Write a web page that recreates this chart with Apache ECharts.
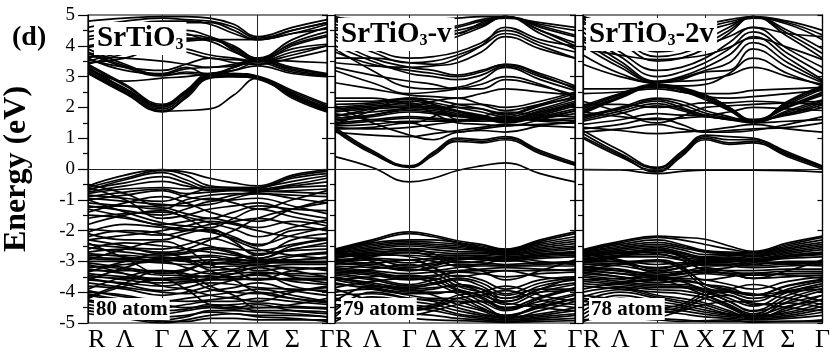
<!DOCTYPE html>
<html>
<head>
<meta charset="utf-8">
<script src="https://cdn.jsdelivr.net/npm/echarts@6/dist/echarts.min.js"></script>
<style>
html,body{margin:0;padding:0;background:#fff}
#chart{width:833px;height:353px}
</style>
</head>
<body>
<div id="chart"></div>
<script>
// High-symmetry path R-Γ-X-M-Γ with the midpoints Λ, Δ, Z, Σ
const kLabels = ['R', 'Λ', 'Γ', 'Δ', 'X', 'Z', 'M', 'Σ', 'Γ'];
const kPos = [0, 0.155, 0.31, 0.41, 0.51, 0.61, 0.71, 0.855, 1];
const symLines = [2, 4, 6]; // Γ, X, M drawn as vertical guides
const energyRange = [-5, 5];

// Each band: energy (eV) at R, Λ, Γ, Δ, X, Z, M, Σ, Γ
// ---- SrTiO3, 80 atom supercell ----
const cond80 = [
  [3.30, 2.62, 2.05, 2.45, 3.00, 3.05, 2.98, 2.50, 2.05],
  [3.20, 2.55, 1.95, 2.40, 3.00, 3.05, 2.95, 2.40, 1.95],
  [3.15, 2.50, 1.88, 1.90, 1.95, 2.40, 2.95, 2.35, 1.88],
  [3.10, 2.45, 1.85, 2.35, 3.05, 3.10, 3.00, 2.45, 2.00],
  [3.25, 2.60, 2.00, 2.50, 3.05, 3.00, 2.95, 2.30, 1.85],
  [3.35, 2.70, 2.05, 2.50, 3.00, 3.05, 2.98, 2.45, 1.92],
  [3.12, 2.48, 1.90, 2.30, 2.95, 3.00, 2.92, 2.38, 1.90],
  [3.40, 2.75, 2.10, 2.55, 3.10, 3.10, 3.02, 2.55, 2.10],
  [3.90, 3.40, 3.05, 3.10, 3.05, 3.30, 3.50, 3.20, 3.05],
  [3.80, 3.35, 3.08, 3.25, 3.30, 3.35, 3.55, 3.30, 3.10],
  [3.60, 3.20, 3.10, 3.30, 3.05, 3.20, 3.45, 3.15, 3.03],
  [3.30, 2.85, 2.95, 3.00, 3.10, 3.20, 3.35, 3.10, 3.00],
  [3.75, 3.30, 3.02, 3.15, 3.10, 3.30, 3.50, 3.25, 3.08],
  [3.65, 3.60, 3.50, 3.40, 3.30, 3.40, 3.55, 3.50, 3.45],
  [3.50, 3.80, 4.00, 4.15, 4.20, 3.90, 3.55, 3.90, 4.05],
  [3.40, 3.75, 4.05, 4.20, 4.25, 3.85, 3.50, 4.00, 4.30],
  [3.60, 3.90, 4.10, 4.25, 4.15, 3.80, 3.55, 4.10, 4.45],
  [3.95, 4.15, 4.30, 4.35, 4.25, 3.95, 3.60, 4.05, 4.35],
  [4.00, 4.20, 4.40, 4.50, 4.30, 4.00, 3.60, 4.20, 4.60],
  [4.30, 4.50, 4.70, 4.75, 4.75, 4.50, 4.20, 4.40, 4.70],
  [4.45, 4.65, 4.80, 4.80, 4.70, 4.40, 4.20, 4.50, 4.75],
  [4.60, 4.80, 4.90, 4.85, 4.80, 4.60, 4.25, 4.50, 4.75],
  [4.80, 4.90, 4.95, 4.95, 4.90, 4.70, 4.30, 4.60, 4.85],
  [3.45, 3.60, 3.95, 3.80, 3.60, 3.55, 3.50, 3.80, 4.00],
  [4.20, 4.40, 4.55, 4.40, 4.20, 4.20, 4.20, 4.40, 4.55],
  [3.70, 3.95, 4.00, 3.90, 3.70, 3.60, 3.50, 3.70, 4.00],
  [3.55, 3.30, 3.20, 3.40, 3.60, 3.45, 3.40, 3.60, 3.85]
];
const val80 = [
  [-0.55, -0.20, -0.02, -0.10, -0.30, -0.45, -0.55, -0.20, -0.03],
  [-0.60, -0.30, -0.05, -0.20, -0.55, -0.60, -0.60, -0.25, -0.08],
  [-0.70, -0.35, -0.12, -0.35, -0.60, -0.60, -0.60, -0.30, -0.15],
  [-0.65, -0.45, -0.25, -0.45, -0.70, -0.68, -0.62, -0.40, -0.22],
  [-0.75, -0.55, -0.40, -0.55, -0.68, -0.66, -0.68, -0.55, -0.42],
  [-0.80, -0.65, -0.60, -0.65, -0.60, -0.62, -0.65, -0.50, -0.30],
  [-0.90, -0.75, -0.65, -0.80, -0.75, -0.70, -0.70, -0.60, -0.55],
  [-1.00, -0.85, -0.70, -0.90, -1.00, -0.85, -0.75, -0.70, -0.65],
  [-0.85, -0.95, -1.05, -0.85, -0.65, -0.68, -0.72, -0.75, -0.80],
  [-0.95, -1.05, -1.15, -1.20, -1.15, -0.95, -0.80, -0.95, -1.10],
  [-1.10, -1.20, -1.30, -1.00, -0.85, -0.80, -0.80, -0.85, -0.90],
  [-1.20, -1.35, -1.50, -1.30, -1.05, -1.00, -0.95, -1.20, -1.45],
  [-1.25, -1.20, -1.25, -1.45, -1.60, -1.40, -1.20, -1.30, -1.35],
  [-0.60, -1.00, -1.60, -1.50, -1.30, -1.20, -1.10, -1.40, -1.60],
  [-1.00, -1.40, -1.75, -1.85, -1.90, -1.60, -1.30, -1.55, -1.75],
  [-1.50, -1.60, -1.80, -1.70, -1.60, -1.75, -1.90, -1.70, -1.85],
  [-1.60, -1.45, -1.40, -1.55, -1.75, -1.95, -2.20, -1.90, -1.65],
  [-1.95, -2.05, -2.15, -2.00, -1.80, -1.70, -1.60, -1.80, -2.00],
  [-2.05, -1.80, -1.90, -2.00, -2.00, -2.20, -2.50, -2.00, -1.95],
  [-2.10, -2.30, -2.30, -2.10, -1.95, -2.35, -2.80, -2.30, -2.10],
  [-2.30, -2.15, -2.00, -1.85, -1.70, -1.80, -2.00, -2.20, -2.25],
  [-2.20, -2.00, -2.10, -2.30, -2.50, -2.70, -2.90, -2.50, -2.30],
  [-2.45, -2.55, -2.60, -2.45, -2.25, -2.45, -2.75, -2.65, -2.60],
  [-2.60, -2.40, -2.50, -2.60, -2.70, -2.80, -2.90, -2.60, -2.50],
  [-2.55, -2.70, -2.80, -2.75, -2.60, -2.75, -2.95, -2.80, -2.70],
  [-2.70, -2.60, -2.70, -2.60, -2.30, -2.00, -1.60, -1.30, -1.10],
  [-2.75, -2.85, -3.00, -2.90, -2.85, -3.00, -3.10, -2.85, -2.75],
  [-2.80, -2.80, -2.90, -2.85, -2.80, -2.90, -3.00, -2.95, -2.90],
  [-2.85, -2.90, -2.85, -2.95, -3.05, -3.00, -2.95, -2.95, -2.85],
  [-2.90, -2.95, -2.95, -3.00, -2.95, -2.95, -3.00, -3.00, -3.00],
  [-3.00, -3.00, -3.05, -3.10, -3.10, -3.05, -3.05, -3.05, -3.05],
  [-3.05, -3.20, -3.35, -3.25, -3.05, -3.10, -3.15, -3.20, -3.25],
  [-3.15, -3.25, -3.45, -3.45, -3.30, -3.25, -3.10, -3.30, -3.50],
  [-3.20, -3.10, -3.00, -3.20, -3.40, -3.30, -3.20, -3.10, -3.10],
  [-3.25, -3.40, -3.60, -3.55, -3.45, -3.40, -3.35, -3.45, -3.50],
  [-3.30, -3.30, -3.30, -3.40, -3.50, -3.50, -3.40, -3.40, -3.40],
  [-3.40, -3.50, -3.55, -3.50, -3.50, -3.55, -3.60, -3.55, -3.55],
  [-3.45, -3.60, -3.70, -3.65, -3.55, -3.50, -3.45, -3.65, -3.75],
  [-3.50, -3.55, -3.60, -3.60, -3.60, -3.60, -3.55, -3.60, -3.60],
  [-3.55, -3.75, -3.95, -3.85, -3.70, -3.75, -3.85, -3.90, -3.95],
  [-3.60, -3.70, -3.80, -3.70, -3.60, -3.40, -3.20, -3.50, -3.70],
  [-3.70, -3.85, -4.00, -4.05, -3.95, -3.85, -3.70, -3.95, -4.10],
  [-3.80, -3.90, -4.10, -4.00, -3.80, -3.60, -3.40, -3.80, -4.00],
  [-3.95, -4.15, -4.25, -4.30, -4.25, -4.15, -4.00, -4.20, -4.35],
  [-4.00, -4.10, -4.30, -4.20, -4.10, -4.00, -3.90, -4.10, -4.30],
  [-4.05, -4.25, -4.40, -4.50, -4.45, -4.40, -4.35, -4.45, -4.50],
  [-4.10, -4.30, -4.50, -4.40, -4.30, -4.30, -4.20, -4.30, -4.40],
  [-4.25, -4.45, -4.60, -4.55, -4.40, -4.45, -4.60, -4.60, -4.65],
  [-4.30, -4.50, -4.70, -4.60, -4.50, -4.55, -4.50, -4.50, -4.55],
  [-4.40, -4.60, -4.80, -4.75, -4.65, -4.70, -4.75, -4.75, -4.80],
  [-4.50, -4.70, -4.90, -4.80, -4.60, -4.60, -4.65, -4.70, -4.80],
  [-4.60, -4.80, -4.95, -4.95, -4.85, -4.85, -4.90, -4.90, -4.90],
  [-4.70, -4.85, -5.00, -4.90, -4.75, -4.70, -4.80, -4.85, -4.95],
  [-3.60, -3.20, -2.90, -3.00, -3.30, -3.60, -4.00, -4.20, -4.30],
  [-3.90, -3.50, -3.30, -3.40, -3.80, -4.10, -4.50, -4.40, -4.20],
  [-4.15, -3.70, -3.30, -3.50, -3.90, -4.00, -4.05, -3.95, -3.85],
  [-2.40, -2.90, -3.40, -3.30, -3.00, -2.90, -2.80, -2.60, -2.40],
  [-2.30, -2.50, -2.75, -2.70, -2.55, -2.60, -2.65, -2.45, -2.25],
  [-3.10, -3.40, -3.80, -3.90, -4.10, -4.20, -4.30, -4.00, -3.80],
  [-1.40, -1.10, -0.90, -1.10, -1.40, -1.60, -1.70, -1.30, -1.00],
  [-0.50, -0.80, -1.20, -1.10, -0.95, -1.10, -1.30, -1.00, -0.70],
  [-1.30, -1.55, -1.85, -1.95, -2.05, -2.25, -2.45, -2.15, -1.90],
  [-1.80, -1.50, -1.35, -1.60, -2.00, -2.30, -2.60, -2.80, -2.90],
  [-2.95, -2.60, -2.35, -2.60, -3.10, -3.30, -3.60, -3.30, -3.20],
  [-4.20, -3.80, -3.60, -3.90, -4.40, -4.50, -4.40, -4.60, -4.70],
  [-3.35, -3.00, -2.75, -2.90, -3.20, -3.15, -3.30, -3.20, -3.30]
];

// ---- SrTiO3-v, 79 atom supercell ----
const cond79 = [
  [1.35, 0.60, 0.10, 0.50, 0.95, 0.90, 1.00, 0.55, 0.15],
  [1.30, 0.55, 0.05, 0.45, 0.90, 0.85, 0.95, 0.50, 0.12],
  [1.25, 0.50, 0.08, 0.55, 1.00, 0.95, 1.05, 0.60, 0.20],
  [0.40, 0.05, -0.42, -0.30, -0.05, 0.10, 0.20, -0.15, -0.42],
  [2.00, 2.10, 2.20, 2.10, 1.90, 1.75, 1.60, 1.90, 2.20],
  [1.95, 2.05, 2.12, 2.05, 1.88, 1.72, 1.58, 1.85, 2.15],
  [1.90, 2.00, 2.05, 2.00, 1.85, 1.70, 1.55, 1.80, 2.10],
  [1.85, 1.95, 2.00, 1.95, 1.80, 1.68, 1.52, 1.75, 2.05],
  [1.75, 1.85, 1.95, 1.90, 1.75, 1.65, 1.50, 1.70, 1.95],
  [1.65, 1.75, 1.90, 1.85, 1.72, 1.62, 1.55, 1.68, 1.88],
  [1.60, 1.70, 1.85, 1.80, 1.70, 1.65, 1.60, 1.65, 1.80],
  [1.50, 1.60, 1.70, 1.65, 1.60, 1.60, 1.65, 1.60, 1.65],
  [1.45, 1.55, 1.65, 1.60, 1.58, 1.62, 1.68, 1.58, 1.58],
  [1.40, 1.45, 1.55, 1.55, 1.55, 1.60, 1.70, 1.55, 1.50],
  [1.30, 1.35, 1.50, 1.30, 1.20, 1.30, 1.40, 1.45, 1.50],
  [1.20, 1.10, 1.05, 1.15, 1.25, 1.35, 1.45, 1.40, 1.35],
  [2.10, 2.15, 2.25, 2.15, 2.00, 1.85, 1.70, 1.95, 2.28],
  [2.20, 2.20, 2.30, 2.25, 2.10, 1.95, 1.75, 2.05, 2.35],
  [2.30, 2.30, 2.10, 2.00, 2.00, 1.95, 1.80, 2.10, 2.45],
  [1.80, 1.60, 1.50, 1.70, 2.10, 2.10, 2.00, 2.20, 2.50],
  [1.45, 1.90, 2.30, 2.10, 1.60, 1.55, 1.60, 1.85, 2.10],
  [1.55, 1.75, 2.00, 2.20, 2.30, 2.10, 1.90, 2.10, 2.30],
  [1.70, 1.95, 2.15, 1.80, 1.50, 1.45, 1.40, 1.60, 1.90],
  [2.05, 1.50, 1.10, 0.95, 1.20, 1.25, 1.20, 1.40, 1.55],
  [1.35, 1.30, 1.35, 1.45, 1.55, 1.70, 1.85, 1.75, 1.70],
  [3.90, 3.20, 2.65, 2.60, 2.65, 2.90, 3.30, 2.90, 2.55],
  [4.20, 3.60, 3.30, 3.20, 3.05, 3.20, 3.40, 3.10, 2.70],
  [4.00, 3.50, 3.10, 3.00, 2.90, 3.05, 3.35, 3.00, 2.65],
  [3.80, 3.40, 3.20, 3.10, 3.00, 3.15, 3.40, 3.05, 2.60],
  [4.30, 3.80, 3.45, 3.50, 3.70, 4.00, 4.40, 4.00, 3.60],
  [4.40, 3.90, 3.60, 3.65, 3.80, 4.10, 4.50, 4.10, 3.80],
  [4.60, 4.20, 3.90, 4.05, 4.30, 4.60, 4.95, 4.40, 3.90],
  [4.70, 4.35, 4.10, 4.20, 4.40, 4.65, 4.95, 4.50, 4.00],
  [4.80, 4.50, 4.30, 4.40, 4.50, 4.70, 4.95, 4.50, 4.10],
  [4.50, 4.60, 4.70, 4.60, 4.40, 4.75, 4.95, 4.60, 4.30],
  [4.85, 4.65, 4.50, 4.55, 4.65, 4.85, 4.95, 4.65, 4.35],
  [3.60, 3.60, 3.45, 3.40, 3.60, 4.00, 4.60, 4.20, 4.00],
  [3.45, 3.35, 3.30, 3.35, 3.45, 3.80, 4.30, 3.90, 3.60],
  [3.30, 3.05, 2.85, 2.75, 2.60, 2.60, 2.90, 2.70, 2.40],
  [4.90, 4.85, 4.80, 4.85, 4.90, 4.95, 4.95, 4.70, 4.50],
  [4.95, 4.70, 4.55, 4.50, 4.60, 4.80, 4.90, 4.75, 4.60],
  [3.20, 2.80, 2.45, 2.50, 2.60, 2.75, 3.00, 2.75, 2.30],
  [2.80, 2.60, 2.40, 2.35, 2.30, 2.45, 2.60, 2.50, 2.40]
];
const val79 = [
  [-2.60, -2.30, -2.04, -2.15, -2.33, -2.45, -2.60, -2.30, -2.04],
  [-2.62, -2.35, -2.10, -2.20, -2.38, -2.50, -2.62, -2.35, -2.10],
  [-2.65, -2.40, -2.30, -2.30, -2.40, -2.55, -2.65, -2.40, -2.20],
  [-2.68, -2.45, -2.35, -2.38, -2.45, -2.58, -2.68, -2.45, -2.28],
  [-2.70, -2.50, -2.40, -2.45, -2.50, -2.60, -2.70, -2.50, -2.35],
  [-2.72, -2.55, -2.45, -2.50, -2.55, -2.62, -2.72, -2.55, -2.42],
  [-2.75, -2.60, -2.50, -2.55, -2.60, -2.65, -2.75, -2.60, -2.50],
  [-2.80, -2.65, -2.58, -2.62, -2.68, -2.70, -2.78, -2.65, -2.55],
  [-2.85, -2.70, -2.65, -2.70, -2.75, -2.75, -2.80, -2.70, -2.60],
  [-2.88, -2.75, -2.72, -2.78, -2.80, -2.80, -2.85, -2.75, -2.68],
  [-2.90, -2.80, -2.80, -2.85, -2.80, -2.85, -2.90, -2.80, -2.75],
  [-2.95, -2.90, -2.95, -2.90, -2.85, -2.90, -2.95, -2.85, -2.80],
  [-3.00, -2.95, -3.05, -2.95, -2.90, -2.95, -3.00, -2.90, -2.85],
  [-3.05, -3.10, -3.20, -3.10, -3.00, -3.05, -3.10, -3.05, -3.00],
  [-3.08, -3.15, -3.30, -3.20, -3.10, -3.10, -3.15, -3.10, -3.05],
  [-3.15, -3.20, -3.25, -3.30, -3.20, -3.15, -3.15, -3.15, -3.15],
  [-3.20, -3.30, -3.40, -3.35, -3.30, -3.25, -3.20, -3.25, -3.30],
  [-3.25, -3.35, -3.50, -3.45, -3.35, -3.30, -3.30, -3.30, -3.25],
  [-3.30, -3.40, -3.55, -3.50, -3.35, -3.40, -3.50, -3.40, -3.35],
  [-3.40, -3.55, -3.75, -3.60, -3.45, -3.60, -3.90, -3.60, -3.50],
  [-3.45, -3.60, -3.80, -3.70, -3.55, -3.70, -4.05, -3.70, -3.55],
  [-3.50, -3.70, -3.85, -3.75, -3.60, -3.80, -4.20, -3.80, -3.60],
  [-3.55, -3.75, -3.95, -3.90, -3.75, -3.90, -4.30, -3.90, -3.70],
  [-3.60, -3.80, -3.90, -3.85, -3.80, -4.00, -4.40, -4.00, -3.75],
  [-3.70, -3.90, -4.05, -4.05, -3.95, -4.15, -4.50, -4.15, -3.85],
  [-3.75, -3.85, -4.00, -4.00, -4.00, -4.30, -4.60, -4.20, -3.90],
  [-4.00, -3.90, -4.10, -4.20, -4.20, -4.50, -4.80, -4.40, -4.10],
  [-4.10, -4.05, -4.20, -4.25, -4.30, -4.55, -4.75, -4.50, -4.20],
  [-4.30, -3.80, -3.90, -4.10, -4.40, -4.60, -4.85, -4.60, -4.30],
  [-4.50, -4.15, -4.30, -4.40, -4.60, -4.75, -4.85, -4.75, -4.60],
  [-4.60, -4.00, -4.20, -4.30, -4.50, -4.70, -4.80, -4.70, -4.50],
  [-4.70, -4.35, -4.50, -4.60, -4.75, -4.85, -4.90, -4.85, -4.75],
  [-4.80, -4.20, -4.40, -4.50, -4.70, -4.80, -4.90, -4.80, -4.70],
  [-4.85, -4.80, -4.85, -4.90, -4.92, -4.95, -4.98, -4.95, -4.92],
  [-4.95, -4.60, -4.70, -4.75, -4.85, -4.90, -4.95, -4.90, -4.85],
  [-3.10, -2.80, -2.60, -2.75, -3.05, -3.00, -2.85, -3.00, -3.10],
  [-3.00, -2.85, -2.70, -2.85, -3.15, -3.10, -2.95, -3.05, -3.05],
  [-2.95, -3.05, -2.95, -3.20, -3.50, -3.40, -3.30, -3.50, -3.60],
  [-3.30, -3.10, -2.95, -3.20, -3.70, -3.90, -4.10, -3.90, -3.90],
  [-3.40, -3.25, -3.10, -3.35, -3.80, -4.00, -4.20, -4.00, -3.95],
  [-4.20, -4.30, -4.50, -4.40, -4.10, -4.00, -3.80, -4.10, -4.30],
  [-4.25, -4.40, -4.60, -4.45, -4.20, -4.10, -3.95, -4.25, -4.40],
  [-4.40, -4.50, -4.60, -4.50, -4.30, -4.30, -4.50, -4.40, -4.50],
  [-3.90, -4.30, -4.75, -4.60, -4.40, -4.30, -4.35, -4.50, -4.60],
  [-2.70, -3.00, -3.30, -3.15, -2.95, -2.90, -2.95, -2.80, -2.70],
  [-2.75, -2.90, -3.15, -3.05, -2.90, -2.85, -2.90, -2.80, -2.75],
  [-3.35, -3.45, -3.60, -3.55, -3.90, -4.10, -4.30, -3.90, -3.50],
  [-2.80, -2.75, -2.85, -3.00, -3.15, -3.30, -3.60, -3.30, -2.95],
  [-3.85, -3.65, -3.55, -3.70, -4.05, -4.40, -4.75, -4.45, -4.20],
  [-3.60, -3.50, -3.45, -3.60, -3.95, -4.20, -4.55, -4.30, -4.05]
];

// ---- SrTiO3-2v, 78 atom supercell ----
const cond78 = [
  [-0.02, -0.03, -0.15, -0.08, -0.04, -0.04, -0.04, -0.05, -0.10],
  [1.05, 0.45, -0.10, 0.40, 0.95, 0.80, 0.85, 0.40, 0.00],
  [1.00, 0.40, -0.05, 0.45, 1.00, 0.85, 0.90, 0.45, 0.05],
  [1.15, 0.50, 0.02, 0.50, 1.05, 0.95, 0.95, 0.50, 0.08],
  [1.25, 0.60, 0.05, 0.55, 1.10, 1.05, 1.00, 0.55, 0.10],
  [1.80, 2.30, 2.70, 2.60, 2.35, 1.95, 1.55, 2.10, 2.60],
  [1.85, 2.32, 2.72, 2.58, 2.30, 1.92, 1.52, 2.15, 2.65],
  [1.90, 2.35, 2.75, 2.55, 2.25, 1.90, 1.50, 2.20, 2.70],
  [1.95, 2.40, 2.70, 2.50, 2.40, 2.00, 1.60, 2.05, 2.50],
  [2.00, 2.42, 2.72, 2.60, 2.38, 2.00, 1.58, 2.02, 2.45],
  [2.05, 2.45, 2.75, 2.65, 2.40, 2.00, 1.55, 2.00, 2.40],
  [1.70, 2.00, 2.30, 2.20, 1.90, 1.70, 1.50, 1.90, 2.25],
  [1.75, 1.95, 2.25, 2.10, 1.82, 1.65, 1.52, 1.85, 2.20],
  [1.65, 1.95, 2.20, 2.00, 1.75, 1.60, 1.55, 1.80, 2.15],
  [1.60, 1.88, 2.12, 1.95, 1.72, 1.62, 1.58, 1.78, 2.08],
  [1.55, 1.80, 2.05, 1.90, 1.70, 1.65, 1.60, 1.75, 2.00],
  [1.45, 1.60, 1.80, 1.75, 1.75, 1.85, 2.00, 1.95, 1.90],
  [1.30, 1.45, 1.65, 1.45, 1.20, 1.20, 1.25, 1.45, 1.70],
  [1.20, 1.30, 1.45, 1.30, 1.20, 1.25, 1.30, 1.35, 1.50],
  [2.10, 2.10, 2.00, 2.05, 2.15, 2.15, 2.20, 2.15, 2.10],
  [2.45, 2.50, 2.60, 2.50, 2.35, 2.30, 2.35, 2.45, 2.55],
  [2.60, 2.60, 2.65, 2.60, 2.45, 2.45, 2.55, 2.60, 2.65],
  [1.85, 1.70, 1.60, 1.65, 1.70, 1.60, 1.50, 1.55, 1.60],
  [2.20, 1.85, 1.50, 1.70, 2.00, 2.05, 2.10, 2.15, 2.20],
  [1.35, 1.25, 1.15, 1.20, 1.25, 1.35, 1.45, 1.30, 1.20],
  [4.00, 3.30, 2.80, 2.90, 3.15, 3.20, 3.90, 3.30, 2.80],
  [4.15, 3.40, 2.82, 2.95, 3.20, 3.45, 4.10, 3.45, 2.85],
  [4.30, 3.50, 2.85, 3.00, 3.30, 3.70, 4.30, 3.60, 2.90],
  [4.45, 3.65, 3.00, 3.15, 3.45, 3.90, 4.45, 3.75, 3.10],
  [3.70, 3.10, 2.80, 2.85, 2.90, 3.05, 3.30, 3.00, 2.75],
  [4.60, 3.80, 3.20, 3.30, 3.60, 4.10, 4.60, 3.90, 3.30],
  [4.80, 4.10, 3.50, 3.60, 3.90, 4.40, 4.95, 4.30, 3.60],
  [4.90, 4.25, 3.65, 3.75, 4.05, 4.50, 4.95, 4.40, 3.75],
  [4.95, 4.40, 3.80, 3.90, 4.20, 4.60, 4.95, 4.50, 3.90],
  [4.95, 4.60, 4.20, 4.30, 4.50, 4.70, 4.90, 4.70, 4.20],
  [4.85, 4.70, 4.35, 4.45, 4.60, 4.78, 4.92, 4.75, 4.35],
  [4.70, 4.75, 4.50, 4.60, 4.70, 4.85, 4.95, 4.80, 4.50],
  [3.40, 3.00, 2.75, 2.70, 2.75, 3.10, 3.60, 3.10, 2.70],
  [3.90, 3.70, 3.55, 3.60, 3.70, 3.95, 4.25, 3.95, 3.55],
  [4.20, 4.00, 3.90, 3.95, 4.05, 4.30, 4.60, 4.40, 4.30]
];
const val78 = [
  [-2.62, -2.35, -2.18, -2.22, -2.28, -2.50, -2.67, -2.40, -2.18],
  [-2.64, -2.40, -2.22, -2.30, -2.45, -2.60, -2.70, -2.45, -2.22],
  [-2.66, -2.45, -2.30, -2.45, -2.65, -2.70, -2.72, -2.50, -2.30],
  [-2.68, -2.50, -2.38, -2.50, -2.68, -2.72, -2.76, -2.55, -2.38],
  [-2.70, -2.55, -2.45, -2.55, -2.70, -2.75, -2.80, -2.60, -2.45],
  [-2.74, -2.60, -2.50, -2.62, -2.78, -2.78, -2.82, -2.65, -2.50],
  [-2.78, -2.65, -2.55, -2.70, -2.85, -2.80, -2.85, -2.70, -2.55],
  [-2.82, -2.70, -2.62, -2.75, -2.88, -2.85, -2.90, -2.75, -2.62],
  [-2.85, -2.75, -2.70, -2.80, -2.90, -2.90, -2.95, -2.80, -2.70],
  [-2.90, -2.80, -2.78, -2.88, -2.95, -2.95, -2.98, -2.85, -2.78],
  [-2.95, -2.85, -2.85, -2.95, -3.00, -3.00, -3.00, -2.90, -2.85],
  [-3.00, -3.00, -3.10, -3.05, -3.05, -3.05, -3.10, -3.00, -3.00],
  [-3.05, -3.08, -3.20, -3.12, -3.08, -3.10, -3.15, -3.08, -3.05],
  [-3.10, -3.15, -3.30, -3.20, -3.10, -3.15, -3.20, -3.15, -3.10],
  [-3.15, -3.30, -3.38, -3.32, -3.28, -3.32, -3.45, -3.40, -3.38],
  [-3.20, -3.25, -3.45, -3.35, -3.20, -3.30, -3.30, -3.25, -3.25],
  [-3.25, -3.32, -3.50, -3.42, -3.30, -3.38, -3.38, -3.32, -3.32],
  [-3.30, -3.40, -3.55, -3.50, -3.40, -3.45, -3.45, -3.40, -3.40],
  [-3.40, -3.50, -3.60, -3.55, -3.60, -3.75, -3.90, -3.65, -3.50],
  [-3.45, -3.58, -3.68, -3.65, -3.75, -3.92, -4.10, -3.78, -3.58],
  [-3.50, -3.65, -3.75, -3.75, -3.90, -4.10, -4.30, -3.90, -3.65],
  [-3.58, -3.70, -3.80, -3.80, -3.95, -4.20, -4.45, -4.00, -3.72],
  [-3.65, -3.75, -3.85, -3.85, -4.00, -4.30, -4.60, -4.10, -3.80],
  [-3.72, -3.82, -3.92, -3.95, -4.10, -4.40, -4.70, -4.20, -3.88],
  [-3.80, -3.90, -4.00, -4.05, -4.20, -4.50, -4.80, -4.30, -3.95],
  [-4.00, -3.85, -4.10, -4.20, -4.35, -4.60, -4.85, -4.50, -4.10],
  [-4.15, -3.92, -4.15, -4.28, -4.42, -4.65, -4.80, -4.58, -4.22],
  [-4.30, -4.00, -4.20, -4.35, -4.50, -4.70, -4.75, -4.65, -4.35],
  [-4.45, -4.10, -4.30, -4.42, -4.58, -4.72, -4.78, -4.70, -4.45],
  [-4.60, -4.20, -4.40, -4.50, -4.65, -4.75, -4.80, -4.75, -4.55],
  [-4.72, -4.30, -4.50, -4.60, -4.72, -4.80, -4.85, -4.80, -4.65],
  [-4.85, -4.40, -4.60, -4.70, -4.80, -4.85, -4.90, -4.85, -4.75],
  [-4.90, -4.85, -4.90, -4.95, -4.92, -4.90, -4.98, -4.95, -4.95],
  [-4.95, -4.70, -4.85, -4.90, -4.95, -4.95, -4.95, -4.95, -4.90],
  [-3.05, -2.85, -2.65, -2.85, -3.25, -3.20, -3.05, -3.10, -3.15],
  [-3.00, -2.80, -2.60, -2.80, -3.15, -3.12, -3.00, -3.05, -3.05],
  [-2.90, -3.00, -3.00, -3.20, -3.60, -3.50, -3.40, -3.45, -3.55],
  [-3.30, -3.10, -3.00, -3.25, -3.85, -4.00, -4.20, -4.00, -3.90],
  [-3.20, -3.05, -2.95, -3.15, -3.75, -3.95, -4.10, -3.95, -3.80],
  [-4.20, -4.35, -4.50, -4.40, -4.00, -3.90, -3.75, -4.00, -4.30],
  [-4.30, -4.42, -4.58, -4.48, -4.10, -4.00, -4.05, -4.20, -4.40],
  [-4.40, -4.50, -4.65, -4.55, -4.20, -4.10, -4.40, -4.35, -4.50],
  [-2.75, -3.00, -3.35, -3.20, -3.00, -2.95, -3.00, -2.85, -2.75],
  [-2.70, -2.95, -3.25, -3.10, -2.95, -2.90, -2.95, -2.80, -2.72],
  [-3.35, -3.50, -3.70, -3.60, -3.75, -3.85, -4.10, -3.80, -3.60],
  [-3.90, -3.70, -3.60, -3.80, -4.10, -4.45, -4.75, -4.45, -4.25],
  [-3.60, -3.55, -3.50, -3.65, -3.95, -4.30, -4.62, -4.35, -4.10],
  [-2.80, -2.70, -2.75, -2.95, -3.30, -3.40, -3.55, -3.30, -2.95],
  [-4.10, -4.30, -4.80, -4.60, -4.40, -4.30, -4.35, -4.50, -4.60],
  [-3.25, -3.40, -3.45, -3.40, -3.35, -3.40, -3.55, -3.50, -3.45]
];

const panelBands = [cond80.concat(val80), cond79.concat(val79), cond78.concat(val78)];
const panelFormula = [['SrTiO', '3', ''], ['SrTiO', '3', '-v'], ['SrTiO', '3', '-2v']];
const panelAtoms = ['80 atom', '79 atom', '78 atom'];

const FONT = 'Liberation Serif';
const frames = [
  { left: 88, width: 239 },
  { left: 335, width: 240 },
  { left: 583, width: 240 }
];
const TOP = 15, HEIGHT = 310;

const grid = [], xAxis = [], yAxis = [], series = [], title = [];

frames.forEach((f, p) => {
  grid.push({ left: f.left, width: f.width, top: TOP, height: HEIGHT,
    show: true, borderColor: '#000', borderWidth: 1.2, backgroundColor: 'transparent' });

  xAxis.push({
    gridIndex: p, type: 'value', min: 0, max: 1,
    axisLine: { show: true, lineStyle: { color: '#000', width: 1.2 } },
    axisTick: { show: false },
    splitLine: { show: false },
    axisLabel: {
      customValues: kPos,
      formatter: (v) => kLabels[kPos.findIndex(k => Math.abs(k - v) < 1e-6)],
      alignMinLabel: 'left',
      fontFamily: FONT, fontSize: 26, color: '#000', margin: 4
    }
  });

  yAxis.push({
    gridIndex: p, type: 'value', min: energyRange[0], max: energyRange[1], interval: 1,
    position: 'left',
    axisLine: { show: true, lineStyle: { color: '#000', width: 1.2 } },
    axisTick: { show: true, inside: false, length: p === 0 ? 10 : 8, lineStyle: { color: '#000', width: 1.2 } },
    minorTick: { show: true, splitNumber: 2, length: 5, lineStyle: { color: '#000', width: 1.2 } },
    splitLine: { show: false },
    axisLabel: { show: p === 0, fontFamily: FONT, fontSize: 19, color: '#000', margin: 13 },
    name: p === 0 ? 'Energy (eV)' : '',
    nameLocation: 'middle', nameGap: 55,
    nameTextStyle: { fontFamily: FONT, fontWeight: 'bold', fontSize: 32, color: '#000' }
  });
  yAxis.push({
    gridIndex: p, type: 'value', min: energyRange[0], max: energyRange[1], interval: 1,
    position: 'right',
    axisLine: { show: true, lineStyle: { color: '#000', width: 1.2 } },
    axisTick: { show: true, inside: true, length: 5, lineStyle: { color: '#000', width: 1.2 } },
    splitLine: { show: false },
    axisLabel: { show: false }
  });

  panelBands[p].forEach((band, i) => {
    const s = {
      type: 'line', xAxisIndex: p, yAxisIndex: 2 * p,
      data: kPos.map((k, j) => [k, band[j]]),
      smooth: 0.45, showSymbol: false, symbol: 'none', silent: true,
      lineStyle: { color: '#000', width: 1.7 }, z: 3
    };
    if (i === 0) {
      s.markLine = {
        silent: true, symbol: 'none', animation: false,
        label: { show: false },
        lineStyle: { color: '#222', width: 1, type: 'solid' },
        data: symLines.map(j => ({ xAxis: kPos[j] })).concat([{ yAxis: 0 }])
      };
    }
    series.push(s);
  });

  const fm = panelFormula[p];
  title.push({
    text: '{m|' + fm[0] + '}{s|' + fm[1] + '}' + (fm[2] ? '{m|' + fm[2] + '}' : ''),
    left: f.left + (p === 0 ? 6 : 3), top: p === 0 ? 20 : 16,
    backgroundColor: '#fff', padding: [2, 3, 2, 3], z: 10,
    textStyle: {
      rich: {
        m: { fontFamily: FONT, fontWeight: 'bold', fontSize: 29, color: '#000', lineHeight: 31, verticalAlign: 'bottom' },
        s: { fontFamily: FONT, fontWeight: 'bold', fontSize: 16, color: '#000', lineHeight: 14, verticalAlign: 'bottom' }
      }
    }
  });
  title.push({
    text: panelAtoms[p], left: f.left + 6, top: 298,
    backgroundColor: '#fff', padding: [1, 2, 0, 2], z: 10,
    textStyle: { fontFamily: FONT, fontWeight: 'bold', fontSize: 21, color: '#000' }
  });
});

title.push({
  text: '(d)', left: 12, top: 24, padding: 0,
  textStyle: { fontFamily: FONT, fontWeight: 'bold', fontSize: 28, color: '#000' }
});

const chart = echarts.init(document.getElementById('chart'));
chart.setOption({
  animation: false,
  backgroundColor: '#fff',
  title, grid, xAxis, yAxis, series
});
</script>
</body>
</html>
